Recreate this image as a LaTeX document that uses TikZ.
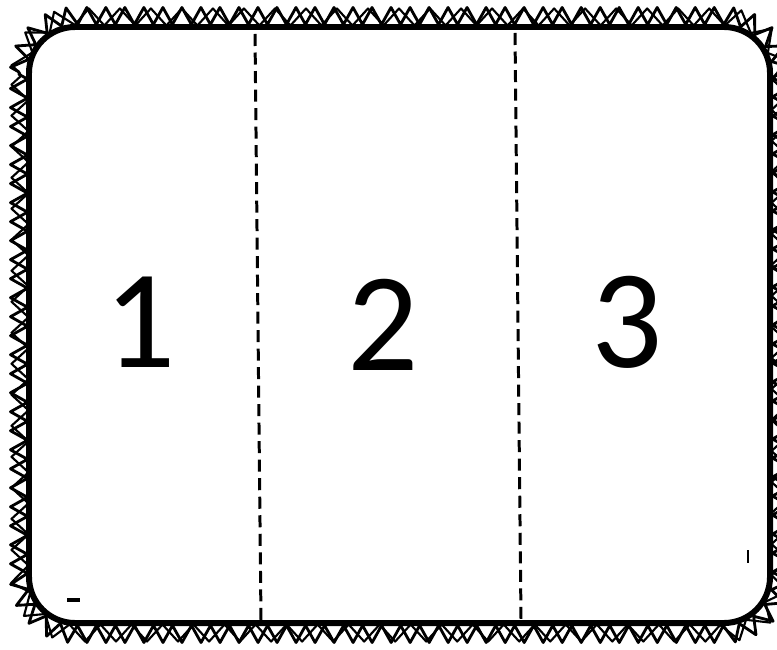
\documentclass[tikz,border=0pt]{standalone}
\usepackage{fontspec}
\setmainfont{Carlito}
\usetikzlibrary{decorations.pathmorphing}

% rounded outline given by corners and radius, in pixel units
\newcommand{\rimloop}[5]{%
  (#1,#2+#5) arc[start angle=180, end angle=270, radius=#5]
  -- (#3-#5,#2) arc[start angle=270, end angle=360, radius=#5]
  -- (#3,#4-#5) arc[start angle=0, end angle=90, radius=#5]
  -- (#1+#5,#4) arc[start angle=90, end angle=180, radius=#5] -- cycle}

\begin{document}
\begin{tikzpicture}[x=0.01cm, y=-0.01cm,
    hatch/.style={line width=0.8pt, line join=round, decorate,
        decoration={zigzag, amplitude=0.085cm, segment length=#1}},
    frame/.style={line width=1.7pt, rounded corners=0.46cm},
    fold/.style={line width=0.85pt, dash pattern=on 0.12cm off 0.065cm},
    num/.style={font=\fontsize{40}{40}\selectfont, inner sep=0pt}]
\useasboundingbox (0,0) rectangle (777,649);

% Hatched rim
\clip (0,0) rectangle (777,649);
\draw[hatch=0.19cm] \rimloop{19}{16}{781}{634}{56};
\draw[hatch=0.31cm, line width=0.6pt] \rimloop{20}{17}{780}{633}{56};

% Card
\draw[frame, fill=white] (29,27) rectangle (770,623);

% Fold lines
\coordinate (f1top) at (255,34);
\coordinate (f1bot) at (261,621);
\coordinate (f2top) at (515,33);
\coordinate (f2bot) at (521,620);
\draw[fold] (f1top) -- (f1bot);
\draw[fold] (f2top) -- (f2bot);

% Panel numbers
\node[num] (one) at (140,322) {1};
\node[num] (two) at (383,325) {2};
\node[num] (three) at (627,322) {3};

% Stray marks
\draw[line width=1pt] (67,600) -- (80,600);
\draw[line width=0.8pt] (748,550) -- (748,563);
\end{tikzpicture}
\end{document}
